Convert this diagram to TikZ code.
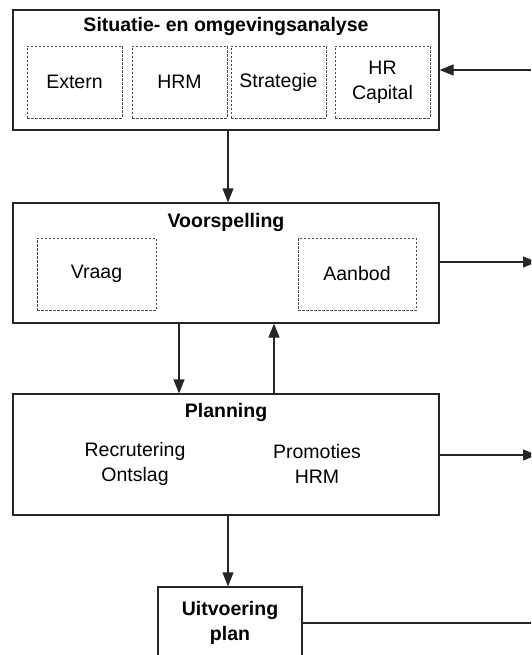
\documentclass[tikz,border=0pt]{standalone}
\usepackage{fontspec}
\setmainfont{Liberation Sans}
\usetikzlibrary{arrows.meta}
\begin{document}
\begin{tikzpicture}[x=1pt,y=-1pt,
  bigbox/.style={draw=black!85,line width=1.2pt,rectangle,inner sep=0pt,minimum width=426pt},
  subbox/.style={draw=black!70,line width=0.8pt,dash pattern=on 2.5pt off 1.5pt,rectangle,inner sep=0pt,minimum height=72pt,align=center},
  lbl/.style={font=\fontsize{19.5}{25}\selectfont,align=center,inner sep=0pt},
  ttl/.style={font=\fontsize{19.5}{25}\selectfont\bfseries,align=center,inner sep=0pt},
  conn/.style={line width=1.2pt,draw=black!85},
  arr/.style={conn,-{Triangle[length=14pt,width=11pt]}}]
\useasboundingbox (0,0) rectangle (531,655);
\clip (0,0) rectangle (531,655);
% big boxes
\node[bigbox,minimum height=120pt] (sit) at (226,70) {};
\node[bigbox,minimum height=120pt] (voor) at (226,263) {};
\node[bigbox,minimum height=121pt] (plan) at (226,454.5) {};
\node[draw=black!85,line width=1.2pt,rectangle,minimum width=144pt,minimum height=100pt] (uit) at (230,637) {};
% titles
\node[ttl] (t1) at (226,27) {Situatie- en omgevingsanalyse};
\node[ttl] (t2) at (226,222) {Voorspelling};
\node[ttl] (t3) at (226,412) {Planning};
\node[ttl] (t4) at (230,623) {Uitvoering\\plan};
% sub boxes
\node[subbox,minimum width=95pt,lbl] (ext) at (74.5,82) {Extern};
\node[subbox,minimum width=95pt,lbl] (hrm) at (179.5,82) {HRM};
\node[subbox,minimum width=95pt,lbl] (str) at (278.5,82) {Strategie};
\node[subbox,minimum width=95pt,lbl] (cap) at (382.5,82) {HR\\Capital};
\node[subbox,minimum width=119pt,lbl] (vraag) at (96.5,274) {Vraag};
\node[subbox,minimum width=118pt,lbl] (aanb) at (357,274) {Aanbod};
% planning texts
\node[lbl] (rec) at (135,464) {Recrutering\\Ontslag};
\node[lbl] (pro) at (317,464) {Promoties\\HRM};
% connector ends
\coordinate (inR) at (531,70);
\coordinate (outV) at (537,262);
\coordinate (outP) at (537,455);
\coordinate (outU) at (531,623);
% connectors
\draw[arr] (inR) -- (inR -| sit.east);
\draw[arr] (sit.south -| 228,0) -- (voor.north -| 228,0);
\draw[arr] (voor.south -| 179,0) -- (plan.north -| 179,0);
\draw[arr] (plan.north -| 274,0) -- (voor.south -| 274,0);
\draw[arr] (plan.south -| 228,0) -- (uit.north -| 228,0);
\draw[arr] (outV -| voor.east) -- (outV);
\draw[arr] (outP -| plan.east) -- (outP);
\draw[conn] (outU -| uit.east) -- (outU);
\end{tikzpicture}
\end{document}
